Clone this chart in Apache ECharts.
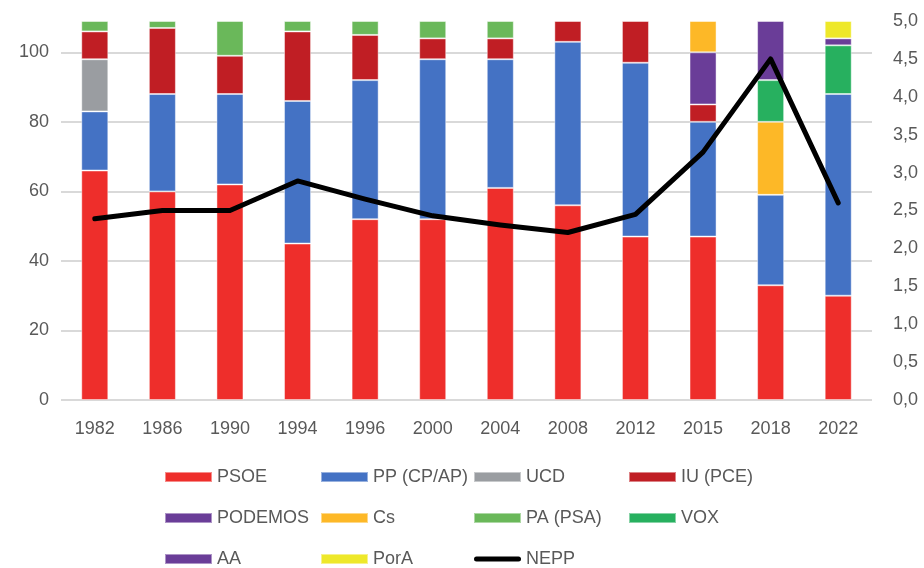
<!DOCTYPE html>
<html>
<head>
<meta charset="utf-8">
<script src="https://cdn.jsdelivr.net/npm/echarts@6/dist/echarts.min.js"></script>
<style>
  html, body { margin: 0; padding: 0; background: #fff; }
  #chart { width: 924px; height: 568px; }
</style>
</head>
<body>
<div id="chart"></div>
<script>
// años de elecciones
const years = ['1982', '1986', '1990', '1994', '1996', '2000', '2004', '2008', '2012', '2015', '2018', '2022']
// escaños por partido
const psoe    = [66, 60, 62, 45, 52, 52, 61, 56, 47, 47, 33, 30]
const pp      = [17, 28, 26, 41, 40, 46, 37, 47, 50, 33, 26, 58]
const ucd     = [15, null, null, null, null, null, null, null, null, null, null, null]
const iu      = [8, 19, 11, 20, 13, 6, 6, 6, 12, 5, null, null]
const podemos = [null, null, null, null, null, null, null, null, null, 15, null, null]
const cs      = [null, null, null, null, null, null, null, null, null, 9, 21, null]
const pa      = [3, 2, 10, 3, 4, 5, 5, null, null, null, null, null]
const vox     = [null, null, null, null, null, null, null, null, null, null, 12, 14]
const aa      = [null, null, null, null, null, null, null, null, null, null, 17, 2]
const pora    = [null, null, null, null, null, null, null, null, null, null, null, 5]
// número efectivo de partidos parlamentarios
const nepp    = [2.39, 2.50, 2.50, 2.89, 2.65, 2.43, 2.31, 2.21, 2.45, 3.27, 4.50, 2.60]

const leftTicks = [0, 20, 40, 60, 80, 100]

const textColor = '#595959'
const gridColor = '#d9d9d9'
const legendFont = "'Liberation Sans Narrow', 'Liberation Sans', sans-serif"
// icono de línea gruesa con extremos redondeados (los M amplían la caja a 47x10)
const lineIcon = 'path://M0,0M47,10M2.5,2.5L44.5,2.5A2.5,2.5,0,0,1,44.5,7.5L2.5,7.5A2.5,2.5,0,0,1,2.5,2.5Z'

const chart = echarts.init(document.getElementById('chart'))

// una serie de barras apiladas
function bar (name, data, color) {
  return {
    name: name,
    type: 'bar',
    stack: 'seats',
    barWidth: '40%',
    data: data,
    itemStyle: { color: color, borderColor: 'rgba(255,255,255,0.45)', borderWidth: 1 }
  }
}

// leyenda en columna
function legendCol (left, items) {
  return {
    orient: 'vertical',
    left: left,
    top: 468,
    height: 120,
    padding: 0,
    itemWidth: 47,
    itemHeight: 10,
    itemGap: 23,
    data: items.map(n => (n === 'NEPP'
      ? { name: n, icon: lineIcon, itemStyle: { color: '#000' } }
      : { name: n, icon: 'rect' })),
    textStyle: { color: textColor, fontSize: 18, fontFamily: legendFont, lineHeight: 18 }
  }
}

chart.setOption({
  animation: false,
  grid: { left: 61, right: 52, top: 21, bottom: 168 },
  legend: [
    legendCol(164, ['PSOE', 'PODEMOS', 'AA']),
    legendCol(320, ['PP (CP/AP)', 'Cs', 'PorA']),
    legendCol(473, ['UCD', 'PA (PSA)', 'NEPP']),
    legendCol(628, ['IU (PCE)', 'VOX'])
  ],
  xAxis: {
    type: 'category',
    data: years,
    axisLine: { show: false },
    axisTick: { show: false },
    axisLabel: { color: textColor, fontSize: 18, fontFamily: 'Liberation Sans', margin: 20 }
  },
  yAxis: [
    {
      type: 'value',
      min: 0,
      max: 109,
      interval: 20,
      axisLine: { show: false },
      axisTick: { show: false },
      axisLabel: {
        color: textColor,
        fontSize: 18,
        fontFamily: 'Liberation Sans',
        margin: 12,
        formatter: v => (leftTicks.indexOf(v) >= 0 ? String(v) : '')
      },
      splitLine: {
        lineStyle: {
          width: 2,
          // sin línea en el tope (109)
          color: [gridColor, gridColor, gridColor, gridColor, gridColor, gridColor, 'rgba(0,0,0,0)']
        }
      }
    },
    {
      type: 'value',
      min: 0,
      max: 5,
      interval: 0.5,
      axisLine: { show: false },
      axisTick: { show: false },
      splitLine: { show: false },
      axisLabel: {
        color: textColor,
        fontSize: 18,
        fontFamily: 'Liberation Sans',
        margin: 21,
        formatter: v => v.toFixed(1).replace('.', ',')
      }
    }
  ],
  series: [
    bar('PSOE', psoe, '#ee2e2b'),
    bar('PP (CP/AP)', pp, '#4472c4'),
    bar('UCD', ucd, '#9a9da1'),
    bar('IU (PCE)', iu, '#c01e24'),
    bar('PODEMOS', podemos, '#6a3d98'),
    bar('Cs', cs, '#fdb827'),
    bar('PA (PSA)', pa, '#6ab85a'),
    bar('VOX', vox, '#27b05f'),
    bar('AA', aa, '#6a3d98'),
    bar('PorA', pora, '#eee82a'),
    {
      name: 'NEPP',
      type: 'line',
      yAxisIndex: 1,
      data: nepp,
      symbol: 'none',
      lineStyle: { color: '#000', width: 5, cap: 'round', join: 'round' },
      itemStyle: { color: '#000' }
    }
  ]
})
</script>
</body>
</html>
